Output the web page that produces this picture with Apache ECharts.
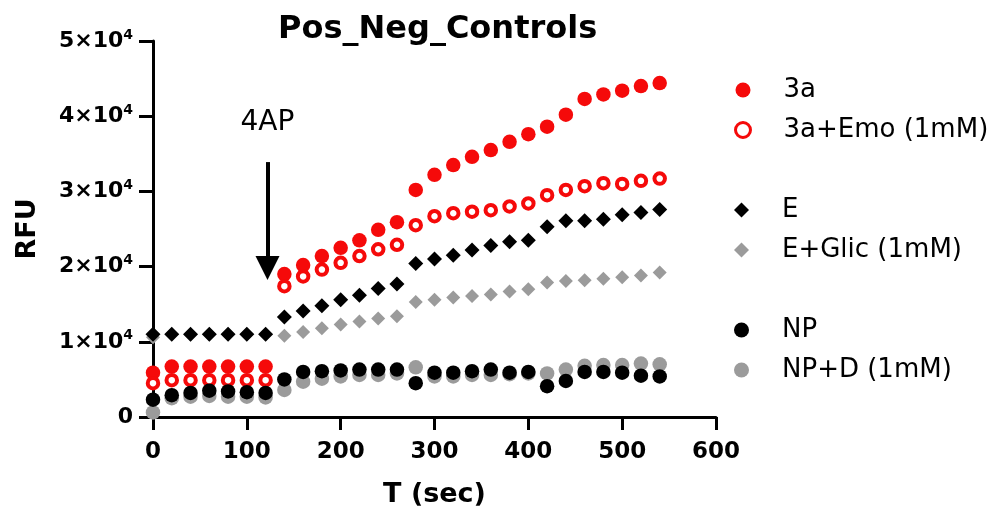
<!DOCTYPE html>
<html>
<head>
<meta charset="utf-8">
<script src="https://cdn.jsdelivr.net/npm/echarts@6/dist/echarts.min.js"></script>
<style>
  html, body { margin: 0; padding: 0; background: #fff; }
  #chart { width: 998px; height: 513px; }
</style>
</head>
<body>
<div id="chart"></div>
<script>
// time points (sec)
const seconds = [0, 20, 40, 60, 80, 100, 120, 140, 160, 180, 200, 220, 240, 260,
  280, 300, 320, 340, 360, 380, 400, 420, 440, 460, 480, 500, 520, 540];

// RFU values
const rfu3a = [5900, 6700, 6700, 6700, 6700, 6700, 6700, 19000, 20200, 21400, 22500, 23500, 24900, 25900,
  30200, 32200, 33500, 34600, 35500, 36600, 37600, 38600, 40200, 42300, 42900, 43400, 44000, 44400];
const rfu3aEmo = [4500, 4900, 4900, 4900, 4900, 4900, 4900, 17400, 18700, 19600, 20500, 21400, 22300, 22900,
  25500, 26700, 27100, 27300, 27500, 28000, 28400, 29500, 30200, 30700, 31100, 31000, 31400, 31700];
const rfuE = [11000, 11000, 11000, 11000, 11000, 11000, 11000, 13300, 14100, 14800, 15600, 16200, 17100, 17700,
  20400, 21000, 21500, 22200, 22800, 23300, 23500, 25300, 26100, 26100, 26300, 26900, 27200, 27600];
const rfuEGlic = [10600, 11000, 11000, 11000, 11000, 11000, 11000, 10800, 11300, 11800, 12300, 12700, 13100, 13400,
  15300, 15600, 15900, 16100, 16300, 16700, 17000, 17900, 18100, 18200, 18400, 18600, 18800, 19200];
const rfuNP = [2300, 2900, 3200, 3500, 3400, 3300, 3200, 5000, 6000, 6100, 6200, 6300, 6300, 6300,
  4500, 5900, 5900, 6100, 6300, 5900, 6000, 4100, 4800, 6000, 6000, 5900, 5500, 5400];
const rfuNPD = [600, 2500, 2700, 2800, 2700, 2700, 2600, 3600, 4700, 5100, 5400, 5600, 5600, 5800,
  6600, 5400, 5400, 5600, 5600, 5700, 5800, 5800, 6300, 6800, 6900, 6900, 7100, 7000];

const seriesNames = ['3a', '3a+Emo (1mM)', 'E', 'E+Glic (1mM)', 'NP', 'NP+D (1mM)'];

// 4AP arrow annotation (data units)
const arrowX = 122;
const arrowTop = 33900;
const arrowEnd = 19800;
const arrowLabelY = 39100;

const FONT = 'DejaVu Sans';
const RED = '#f50a0a';
const GREY = '#9b9b9b';

const pairs = vals => seconds.map((s, i) => [s, vals[i]]);

const chart = echarts.init(document.getElementById('chart'));

const legendBase = {
  orient: 'vertical',
  left: 734,
  padding: 0,
  itemWidth: 15,
  itemHeight: 15,
  itemGap: 12,
  selectedMode: false,
  textStyle: {
    fontFamily: FONT, fontSize: 26, color: '#000', lineHeight: 28,
    padding: [0, 0, 0, 28]
  }
};

const option = {
  animation: false,
  backgroundColor: '#fff',
  title: {
    text: 'Pos_Neg_Controls',
    left: 278,
    top: 14,
    padding: 0,
    textStyle: { fontFamily: FONT, fontSize: 32, fontWeight: 'bold', color: '#000' }
  },
  legend: [
    Object.assign({}, legendBase, {
      top: 76,
      data: [seriesNames[0], { name: seriesNames[1], itemStyle: { borderWidth: 3 } }]
    }),
    Object.assign({}, legendBase, { top: 196, data: [seriesNames[2], seriesNames[3]] }),
    Object.assign({}, legendBase, { top: 316, data: [seriesNames[4], seriesNames[5]] })
  ],
  grid: { left: 153, right: 282, top: 41, bottom: 96, containLabel: false },
  xAxis: {
    type: 'value',
    min: 0, max: 600, interval: 100,
    name: 'T (sec)',
    nameLocation: 'middle',
    nameGap: 64,
    nameTextStyle: { fontFamily: FONT, fontSize: 27, fontWeight: 'bold', color: '#000' },
    axisLine: { lineStyle: { color: '#000', width: 3 } },
    axisTick: { length: 13, lineStyle: { color: '#000', width: 3 } },
    axisLabel: { margin: 24, fontFamily: FONT, fontSize: 23, fontWeight: 'bold', color: '#000' },
    splitLine: { show: false }
  },
  yAxis: {
    type: 'value',
    min: 0, max: 50000, interval: 10000,
    name: 'RFU',
    nameLocation: 'middle',
    nameGap: 112,
    nameTextStyle: { fontFamily: FONT, fontSize: 27, fontWeight: 'bold', color: '#000' },
    axisLine: { lineStyle: { color: '#000', width: 3 } },
    axisTick: { length: 14, lineStyle: { color: '#000', width: 3 } },
    axisLabel: {
      margin: 20,
      formatter: v => v === 0 ? '{b|0}' : '{b|' + (v / 10000) + '×10}{s|4}',
      rich: {
        b: { fontFamily: FONT, fontSize: 22, fontWeight: 'bold', color: '#000', lineHeight: 26 },
        s: { fontFamily: FONT, fontSize: 14, fontWeight: 'bold', color: '#000', verticalAlign: 'top', lineHeight: 14 }
      }
    },
    splitLine: { show: false }
  },
  series: [
    {
      name: seriesNames[0], type: 'scatter', z: 2,
      symbol: 'circle', symbolSize: 14.5,
      itemStyle: { color: RED, opacity: 1 },
      data: pairs(rfu3a),
      markLine: {
        silent: true,
        symbol: ['none', 'triangle'],
        symbolSize: 24,
        lineStyle: { color: '#000', width: 4, type: 'solid' },
        itemStyle: { color: '#000' },
        label: { show: false },
        data: [[{ coord: [arrowX, arrowTop] }, { coord: [arrowX, arrowEnd] }]]
      },
      markPoint: {
        silent: true,
        symbolSize: 0,
        label: { show: true, position: 'inside', formatter: '4AP', fontFamily: FONT, fontSize: 28, color: '#000' },
        data: [{ coord: [arrowX, arrowLabelY] }]
      }
    },
    {
      name: seriesNames[1], type: 'scatter', z: 3,
      symbol: 'circle', symbolSize: 10.5,
      itemStyle: { color: '#fff', borderColor: RED, borderWidth: 4, opacity: 1 },
      data: pairs(rfu3aEmo)
    },
    {
      name: seriesNames[2], type: 'scatter', z: 3,
      symbol: 'diamond', symbolSize: 15,
      itemStyle: { color: '#000', opacity: 1 },
      data: pairs(rfuE)
    },
    {
      name: seriesNames[3], type: 'scatter', z: 2,
      symbol: 'diamond', symbolSize: 14,
      itemStyle: { color: GREY, opacity: 1 },
      data: pairs(rfuEGlic)
    },
    {
      name: seriesNames[4], type: 'scatter', z: 3,
      symbol: 'circle', symbolSize: 14.5,
      itemStyle: { color: '#000', opacity: 1 },
      data: pairs(rfuNP)
    },
    {
      name: seriesNames[5], type: 'scatter', z: 2,
      symbol: 'circle', symbolSize: 14.5,
      itemStyle: { color: GREY, opacity: 1 },
      data: pairs(rfuNPD)
    }
  ]
};

chart.setOption(option);
</script>
</body>
</html>
